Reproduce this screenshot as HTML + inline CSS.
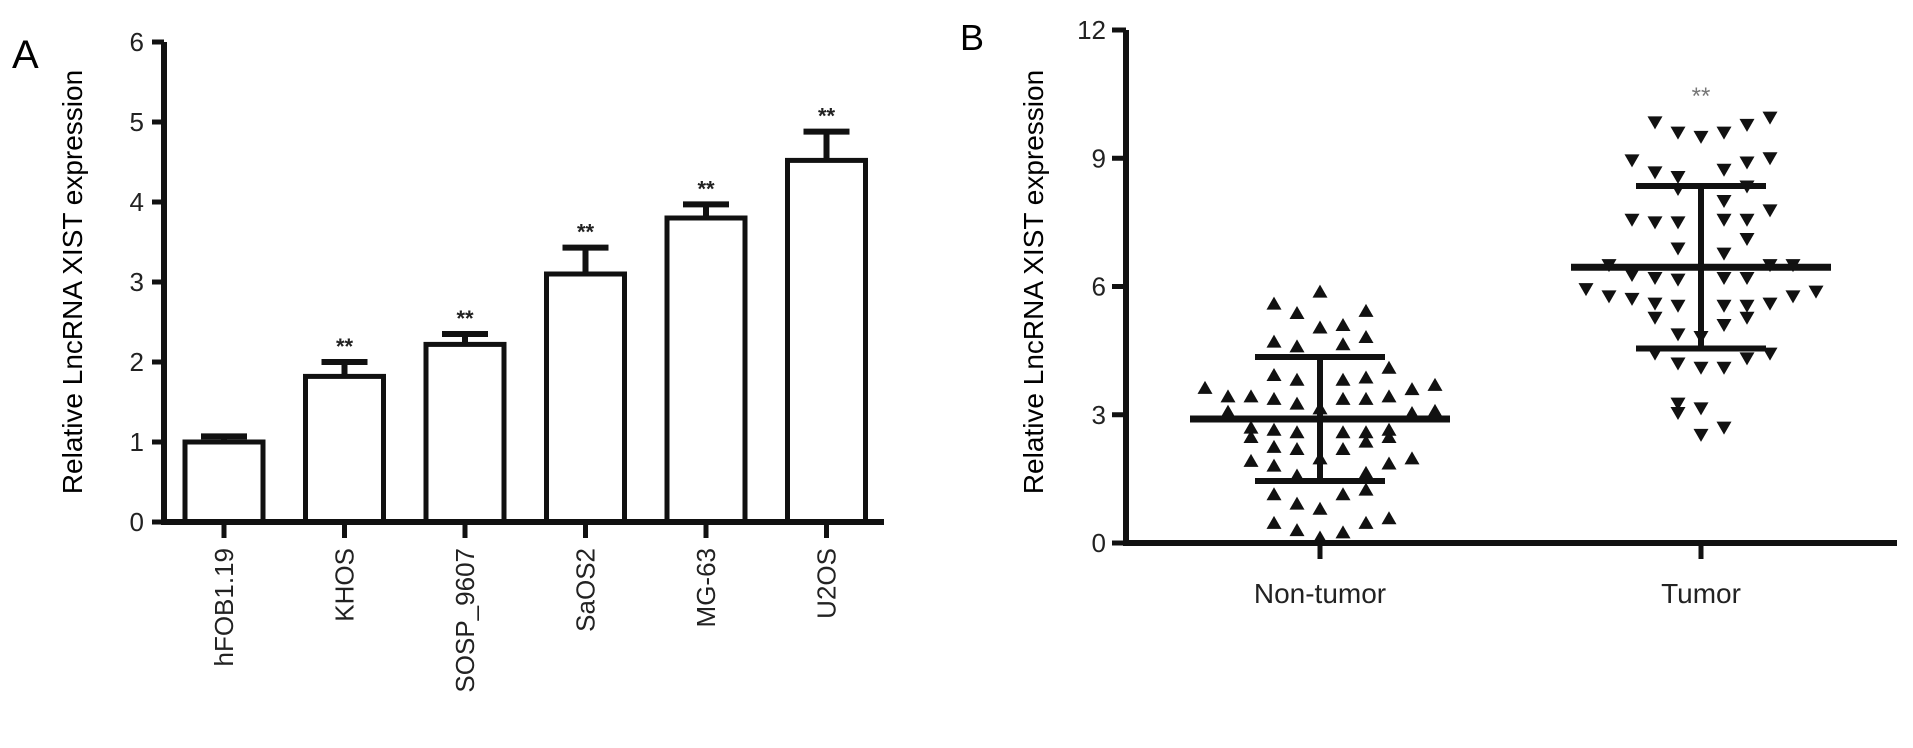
<!DOCTYPE html>
<html><head><meta charset="utf-8"><style>
html,body{margin:0;padding:0;background:#fff;}
svg{display:block;font-family:"Liberation Sans",Arial,sans-serif;}
</style></head><body>
<svg id="fig" width="1913" height="748" viewBox="0 0 1913 748" xmlns="http://www.w3.org/2000/svg">
<text x="12" y="68" font-size="40">A</text>
<text x="960" y="50" font-size="36">B</text>
<g id="pa"></g>
<g id="pb"></g>
</svg>
<script>
// ---- Panel A data ----
const cellLines = ["hFOB1.19","KHOS","SOSP_9607","SaOS2","MG-63","U2OS"];
const meanExpr = [1.0,1.82,2.22,3.1,3.8,4.52];
const errUpper = [1.07,2.0,2.35,3.43,3.97,4.88];
const sigA = [false,true,true,true,true,true];
const ticksA = [0,1,2,3,4,5,6];
// ---- Panel B data ----
const groups = ["Non-tumor","Tumor"];
const ticksB = [0,3,6,9,12];
const ntValues = [5.88,5.6,5.38,5.43,5.04,5.1,4.71,4.6,4.65,4.82,4.1,3.93,3.82,3.82,3.87,3.63,3.6,3.7,3.43,3.43,3.37,3.26,3.37,3.37,3.43,3.15,3.07,3.04,3.09,2.7,2.65,2.59,2.59,2.59,2.65,2.48,2.37,2.48,2.25,2.2,2.2,1.98,1.92,1.86,1.98,1.81,1.58,1.64,1.14,1.14,1.25,0.92,0.8,0.47,0.47,0.58,0.3,0.25,0.13];
const ntSlots = [0,-2,-1,2,0,1,-2,-1,1,2,3,-2,-1,1,2,-5,4,5,-4,-3,-2,-1,1,2,3,0,-4,4,5,-3,-2,-1,1,2,3,-3,2,3,-2,-1,1,0,-3,3,4,-2,-1,2,-2,1,2,-1,0,-2,2,3,-1,1,0];
const tuValues = [9.84,9.6,9.5,9.6,9.78,9.95,8.95,9.0,8.9,8.67,8.56,8.73,8.28,8.34,8.0,7.78,7.56,7.5,7.5,7.56,7.56,7.11,6.89,6.77,6.5,6.5,6.5,6.27,6.2,6.16,6.2,6.2,5.94,5.77,5.71,5.6,5.55,5.55,5.55,5.6,5.77,5.88,5.27,5.1,5.27,4.88,4.82,4.43,4.2,4.1,4.1,4.32,4.43,3.26,3.15,3.04,2.7,2.53];
const tuSlots = [-2,-1,0,1,2,3,-3,3,2,-2,-1,1,-1,2,1,3,-3,-2,-1,1,2,2,-1,1,-4,4,3,-3,-2,-1,1,2,-5,-4,-3,-2,-1,1,2,3,4,5,-2,1,2,-1,0,-2,-1,0,1,2,3,-1,0,-1,1,0];
const groupMean = [2.9,6.45];
const groupSD = [1.45,1.9];

const NS="http://www.w3.org/2000/svg";
function mk(parent,tag,attrs,text){const e=document.createElementNS(NS,tag);for(const k in attrs)e.setAttribute(k,attrs[k]);if(text!==undefined)e.textContent=text;parent.appendChild(e);return e;}

// ---- Panel A ----
const pa=document.getElementById('pa');
const aX0=164, aY0=522, aPx=80, aStep=120.5, aFirst=224, aBarW=78;
const ya=v=>aY0-v*aPx;
const xa=i=>aFirst+i*aStep;
let t=mk(pa,'text',{x:0,y:0,'font-size':28,'text-anchor':'middle',transform:'translate(82,282) rotate(-90)'},'Relative LncRNA XIST expression');


ticksA.forEach(v=>{
  const l=mk(pa,'line',{x1:aX0-12,x2:aX0,y1:ya(v),y2:ya(v),stroke:'#111','stroke-width':5});
  
  
  const tx=mk(pa,'text',{x:aX0-20,y:ya(v)+9,'font-size':26,'text-anchor':'end',fill:'#222'},String(v));
  
  
});
cellLines.forEach((c,i)=>{
  const cx=xa(i);
  const eb=mk(pa,'path',{d:`M${cx},${ya(meanExpr[i])} V${ya(errUpper[i])} M${cx-23},${ya(errUpper[i])} H${cx+23}`,stroke:'#111','stroke-width':6,fill:'none'});
  
  
  const r=mk(pa,'rect',{x:cx-aBarW/2,y:ya(meanExpr[i]),width:aBarW,height:aY0-ya(meanExpr[i]),fill:'#fff',stroke:'#111','stroke-width':5});
  
  
  if(sigA[i]){const s=mk(pa,'text',{x:cx,y:ya(errUpper[i])-8,'font-size':22,'font-weight':'bold','text-anchor':'middle',fill:'#222'},'**');
    
    }
  const tk=mk(pa,'line',{x1:cx,x2:cx,y1:aY0,y2:aY0+16,stroke:'#111','stroke-width':5});
  
  
  const lb=mk(pa,'text',{x:0,y:0,'font-size':26,'text-anchor':'end',fill:'#222',transform:`translate(${cx+9},548) rotate(-90)`},c);
  
  
});
let ax=mk(pa,'path',{d:`M${aX0},${ya(6)} V${aY0} H884`,stroke:'#111','stroke-width':6,fill:'none'});



// ---- Panel B ----
const pb=document.getElementById('pb');
const bX0=1126, bY0=543, bPx=42.75, bCenters=[1320,1701], slotW=23;
const yb=v=>bY0-v*bPx;
t=mk(pb,'text',{x:0,y:0,'font-size':28,'text-anchor':'middle',transform:'translate(1043,282) rotate(-90)'},'Relative LncRNA XIST expression');


ticksB.forEach(v=>{
  const l=mk(pb,'line',{x1:bX0-14,x2:bX0,y1:yb(v),y2:yb(v),stroke:'#111','stroke-width':5});
  
  
  const tx=mk(pb,'text',{x:bX0-20,y:yb(v)+9,'font-size':26,'text-anchor':'end',fill:'#222'},String(v));
  
  
});
function tri(x,y,up){return up?`M${x-7.5},${y+6} L${x+7.5},${y+6} L${x},${y-7} Z`:`M${x-7.5},${y-6} L${x+7.5},${y-6} L${x},${y+7} Z`;}
ntValues.forEach((v,i)=>{
  const p=mk(pb,'path',{d:tri(bCenters[0]+ntSlots[i]*slotW,yb(v),true),fill:'#111'});
  
  
});
tuValues.forEach((v,i)=>{
  const p=mk(pb,'path',{d:tri(bCenters[1]+tuSlots[i]*slotW,yb(v),false),fill:'#111'});
  
  
});
groups.forEach((g,i)=>{
  const cx=bCenters[i], m=groupMean[i], sd=groupSD[i];
  const e=mk(pb,'path',{d:`M${cx},${yb(m+sd)} V${yb(m-sd)} M${cx-65},${yb(m+sd)} H${cx+65} M${cx-65},${yb(m-sd)} H${cx+65}`,stroke:'#111','stroke-width':6,fill:'none'});
  
  
  const ml=mk(pb,'line',{x1:cx-130,x2:cx+130,y1:yb(m),y2:yb(m),stroke:'#111','stroke-width':7});
  
  
  const tk=mk(pb,'line',{x1:cx,x2:cx,y1:bY0,y2:bY0+16,stroke:'#111','stroke-width':5});
  
  
  const lb=mk(pb,'text',{x:cx,y:603,'font-size':28,'text-anchor':'middle',fill:'#222'},g);
  
  
});
const st=mk(pb,'text',{x:bCenters[1],y:104,'font-size':24,'text-anchor':'middle',fill:'#777'},'**');


ax=mk(pb,'path',{d:`M${bX0},${yb(12)} V${bY0} H1897`,stroke:'#111','stroke-width':6,fill:'none'});


</script>
</body></html>
